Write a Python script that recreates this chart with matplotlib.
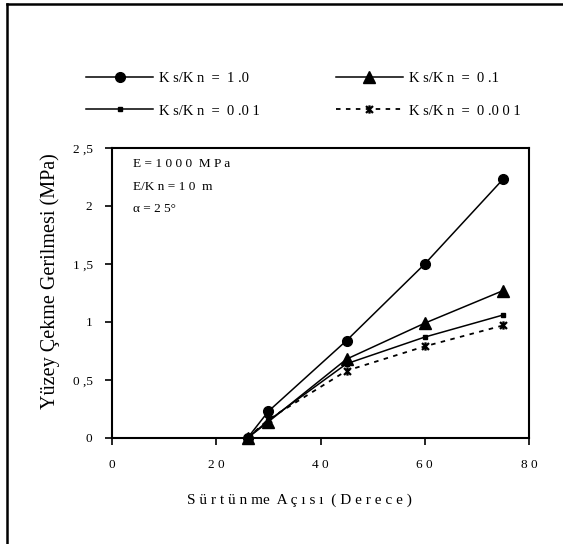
import matplotlib
matplotlib.use("Agg")
import matplotlib.pyplot as plt
from matplotlib.lines import Line2D
from matplotlib.path import Path

# Friction angle (degrees)
angles = [26, 30, 45, 60, 75]

# Surface tensile stress (MPa) for each Ks/Kn ratio
stress_1 = [0.0, 0.23, 0.84, 1.50, 2.23]
stress_01 = [0.0, 0.14, 0.68, 0.99, 1.27]
stress_001 = [0.0, 0.15, 0.64, 0.87, 1.06]
stress_0001 = [0.0, 0.16, 0.58, 0.79, 0.97]

series_labels = ["K s/K n  =  1 .0", "K s/K n  =  0 .1",
                 "K s/K n  =  0 .0 1", "K s/K n  =  0 .0 0 1"]

x_ticks = [0, 20, 40, 60, 80]
x_tick_labels = ["0", "2 0", "4 0", "6 0", "8 0"]
y_ticks = [0, 0.5, 1, 1.5, 2, 2.5]
y_tick_labels = ["0", "0 ,5", "1", "1 ,5", "2", "2 ,5"]

plt.rcParams["font.family"] = ["Liberation Serif", "DejaVu Serif"]

W, H = 563, 544
fig = plt.figure(figsize=(W / 100, H / 100), dpi=100)
ax = fig.add_axes([112 / W, 1 - 438 / H, 417 / W, 290 / H])

# Excel-style star marker: X with a vertical bar
star = Path([(-1, -1), (1, 1), (-1, 1), (1, -1), (0, -1.2), (0, 1.2)],
            [Path.MOVETO, Path.LINETO, Path.MOVETO, Path.LINETO, Path.MOVETO, Path.LINETO])

h1, = ax.plot(angles, stress_1, color="black", lw=1.1, marker="o", ms=7, clip_on=False)
h2, = ax.plot(angles, stress_01, color="black", lw=1.1, marker="^", ms=8, clip_on=False)
h3, = ax.plot(angles, stress_001, color="black", lw=1.1, marker="s", ms=3.5, clip_on=False)
h4, = ax.plot(angles, stress_0001, color="black", lw=1.3, ls=(0, (2.5, 3)),
              marker=star, ms=6, mew=1.6, clip_on=False)

ax.set_xlim(0, 80)
ax.set_ylim(0, 2.5)
ax.set_xticks(x_ticks)
ax.set_xticklabels(x_tick_labels, fontsize=9.5)
ax.set_yticks(y_ticks)
ax.set_yticklabels(y_tick_labels, fontsize=9.5)
ax.tick_params(direction="out", length=5, width=1.2)
ax.tick_params(axis="x", pad=10)
ax.tick_params(axis="y", pad=9)
for sp in ax.spines.values():
    sp.set_linewidth(1.5)

ax.set_xlabel("S ü r t ü n me  A ç ı s ı  ( D e r e c e )", fontsize=11)
ax.xaxis.set_label_coords(0.45, -0.19)
ax.set_ylabel("Yüzey Çekme Gerilmesi (MPa)", fontsize=14.5)
ax.yaxis.set_label_coords(-0.125, 0.54)

ax.text(0.05, 0.965, "E = 1 0 0 0  M P a", transform=ax.transAxes, fontsize=9.5, va="top")
ax.text(0.05, 0.885, "E/K n = 1 0  m", transform=ax.transAxes, fontsize=9.5, va="top")
ax.text(0.05, 0.81, "α = 2 5°", transform=ax.transAxes, fontsize=9.5, va="top")

# legend filled column-wise, so order handles to read row by row
fig.legend([h1, h3, h2, h4],
           [series_labels[0], series_labels[2], series_labels[1], series_labels[3]],
           loc="upper left", bbox_to_anchor=(73 / W, 1 - 59 / H), ncol=2, frameon=False,
           fontsize=10.5, handlelength=4.6, handletextpad=0.4, columnspacing=5.2,
           labelspacing=1.3)

# outer frame lines
fig.add_artist(Line2D([7 / W, 7 / W], [0, 1 - 4 / H], color="black", lw=1.8))
fig.add_artist(Line2D([7 / W, 1], [1 - 4 / H, 1 - 4 / H], color="black", lw=1.8))

fig.savefig("out.png", dpi=100)
